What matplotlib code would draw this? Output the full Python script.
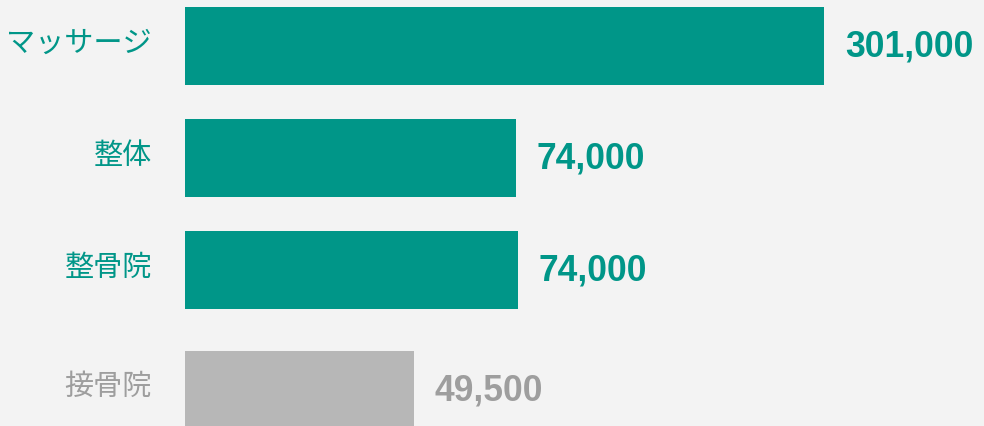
import matplotlib.pyplot as plt

# Data
categories = ["マッサージ", "整体", "整骨院", "接骨院"]
values = [301000, 74000, 74000, 49500]
# bar lengths as drawn in the chart (not to scale with the values)
bar_lengths = [639, 331, 333, 229]
highlight = [True, True, True, False]

# Layout
y_pos = [0, 1, 2, 3.07]
teal = "#009688"
gray_bar = "#B7B7B7"
gray_text = "#9E9E9E"
bg = "#F3F3F3"

fig = plt.figure(figsize=(9.84, 4.27), dpi=100, facecolor=bg)
ax = fig.add_axes([185 / 984, 0, 799 / 984, 1])
ax.set_facecolor(bg)

colors = [teal if h else gray_bar for h in highlight]
text_colors = [teal if h else gray_text for h in highlight]

ax.barh(y_pos, bar_lengths, height=78 / 112, color=colors)

for y, length, val, tc, cat in zip(y_pos, bar_lengths, values, text_colors, categories):
    ax.annotate(f"{val:,}", xy=(length, y), xytext=(15, 0), textcoords="offset points",
                ha="left", va="center", fontsize=25.6, fontweight="bold",
                color=tc, family=["Liberation Sans", "DejaVu Sans"])
    ax.text(-33, y - 0.03, cat, ha="right", va="center", fontsize=21,
            color=tc, family=["Noto Sans CJK JP", "DejaVu Sans"], clip_on=False)

ax.set_xlim(0, 799)
ax.set_ylim(3.394, -0.419)
ax.axis("off")

fig.savefig("out.png", dpi=100, facecolor=bg)
